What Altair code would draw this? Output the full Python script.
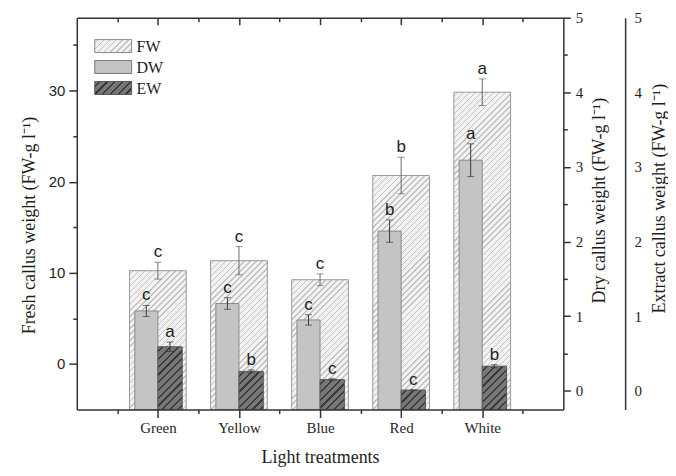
import json
import math
import altair as alt
import pandas as pd

# ---------------- data ----------------
treatments = ["Green", "Yellow", "Blue", "Red", "White"]
fw_mean = [10.23, 11.33, 9.24, 20.68, 29.82]
fw_err = [0.93, 1.55, 0.64, 2.0, 1.46]
fw_letters = ["c", "c", "c", "b", "a"]
dw_mean = [1.07, 1.17, 0.95, 2.14, 3.09]
dw_err = [0.074, 0.078, 0.07, 0.15, 0.22]
dw_letters = ["c", "c", "c", "b", "a"]
ew_mean = [0.59, 0.26, 0.15, 0.01, 0.33]
ew_err = [0.063, 0.02, 0.012, 0.0, 0.02]
ew_letters = ["a", "b", "c", "c", "b"]
legend_labels = ["FW", "DW", "EW"]

fresh_ticks = [0, 10, 20, 30]
fresh_minor = [5, 15, 25, 35]
right_ticks = [0, 1, 2, 3, 4, 5]
right_minor = [0.5, 1.5, 2.5, 3.5, 4.5]

# ---------------- layout / style ----------------
W, H = 488, 393
X_DOM = [0, 6]
FW_DOM = [-5, 38]
R_DOM = [-0.25, 5]
FW_HALF = 0.35
DW_OFF = (-0.285, 0.0)
EW_OFF = (0.0, 0.30)
SERIF = "Liberation Serif"
SANS = "Liberation Sans"
TXT = "#1e1e1e"
FRAME = "#333333"

pos = [i + 1 for i in range(len(treatments))]
x_minor_vals = [p - 0.5 for p in pos] + [pos[-1] + 0.5]
df = pd.DataFrame({
    "treatment": treatments,
    "pos": pos,
    "fw": fw_mean,
    "fw_lo": [m - e for m, e in zip(fw_mean, fw_err)],
    "fw_hi": [m + e for m, e in zip(fw_mean, fw_err)],
    "fw_l": fw_letters,
    "fw_x1": [p - FW_HALF for p in pos],
    "fw_x2": [p + FW_HALF for p in pos],
    "dw": dw_mean,
    "dw_lo": [m - e for m, e in zip(dw_mean, dw_err)],
    "dw_hi": [m + e for m, e in zip(dw_mean, dw_err)],
    "dw_l": dw_letters,
    "dw_x1": [p + DW_OFF[0] for p in pos],
    "dw_x2": [p + DW_OFF[1] for p in pos],
    "dw_xc": [p + (DW_OFF[0] + DW_OFF[1]) / 2 for p in pos],
    "ew": ew_mean,
    "ew_lo": [m - e for m, e in zip(ew_mean, ew_err)],
    "ew_hi": [m + e for m, e in zip(ew_mean, ew_err)],
    "ew_l": ew_letters,
    "ew_x1": [p + EW_OFF[0] for p in pos],
    "ew_x2": [p + EW_OFF[1] for p in pos],
    "ew_xc": [p + (EW_OFF[0] + EW_OFF[1]) / 2 for p in pos],
})
legend_df = pd.DataFrame({"label": legend_labels})


def hatch(w, h, bg, fg, spacing, thick):
    """45-degree '///' hatch as a linear gradient with hard stops."""
    L = w + h
    k = L / (w * w + h * h)
    period = spacing * math.sqrt(2) / L
    lw = thick * math.sqrt(2) / L
    stops = []
    i = 0
    while True:
        a = period * 0.5 + i * period
        if a >= 1:
            break
        b = min(a + lw, 1.0)
        stops += [(a, bg), (a, fg), (b, fg), (b, bg)]
        i += 1
    out = [{"offset": 0, "color": bg}] + [
        {"offset": round(o, 5), "color": c} for o, c in stops
    ] + [{"offset": 1, "color": bg}]
    return {"gradient": "linear", "x1": 0, "y1": 0,
            "x2": round(k * w, 5), "y2": round(k * h, 5), "stops": out}


FW_HATCH = dict(bg="#f2f2f2", fg="#c2c2c2", spacing=4.3, thick=1.0)
EW_HATCH = dict(bg="#777777", fg="#3a3a3a", spacing=5.5, thick=1.6)
DW_FILL = "#c4c4c4"

px_x = W / (X_DOM[1] - X_DOM[0])
px_fw = H / (FW_DOM[1] - FW_DOM[0])
px_r = H / (R_DOM[1] - R_DOM[0])

xs = alt.Scale(domain=X_DOM, nice=False, zero=False)
ys_fw = alt.Scale(domain=FW_DOM, nice=False, zero=False)
ys_r = alt.Scale(domain=R_DOM, nice=False, zero=False)

AX = dict(domainColor=FRAME, domainWidth=1.5, tickColor=FRAME, tickWidth=1.5,
          grid=False, zindex=1)
TITLE = dict(titleFont=SERIF, titleFontSize=18, titleFontWeight="normal",
             titleColor=TXT)

label_expr = json.dumps([""] + treatments) + "[datum.value]"
x_main = alt.Axis(orient="bottom", values=pos, labelExpr=label_expr, tickSize=8,
                  labelFont=SERIF, labelFontSize=15, labelColor=TXT, labelPadding=3,
                  title="Light treatments", titlePadding=13, **TITLE, **AX)
x_minor = alt.Axis(orient="bottom", values=x_minor_vals, tickSize=4, labels=False,
                   domain=False, title=None, **AX)
x_top = alt.Axis(orient="top", values=pos, tickSize={"expr": "-7"}, labels=False,
                 title=None, **AX)
x_top_minor = alt.Axis(orient="top", values=x_minor_vals, tickSize={"expr": "-4"},
                       labels=False, domain=False, title=None, **AX)
y_fw = alt.Axis(orient="left", values=fresh_ticks, tickSize=8, labelFont=SANS,
                labelFontSize=15, labelColor=TXT, labelPadding=4,
                title="Fresh callus weight (FW-g l⁻¹)", titlePadding=10,
                titleY=208, **TITLE, **AX)
y_fw_minor = alt.Axis(orient="left", values=fresh_minor, tickSize=4, labels=False,
                      domain=False, title=None, **AX)
y_dw = alt.Axis(orient="right", values=right_ticks, tickSize=7, labelFont=SERIF,
                labelFontSize=15, labelColor=TXT, labelPadding=5,
                title="Dry callus weight (FW-g l⁻¹)", titleAngle=270,
                titleBaseline="top", titlePadding=8, titleY=183, **TITLE, **AX)
y_dw_minor = alt.Axis(orient="right", values=right_minor, tickSize=4, labels=False,
                      domain=False, title=None, **AX)
y_ew = alt.Axis(orient="right", offset=62, values=right_ticks, ticks=False,
                tickSize=0, labelFont=SERIF, labelFontSize=15, labelColor=TXT,
                labelPadding=9, title="Extract callus weight (FW-g l⁻¹)",
                titleAngle=270, titleBaseline="top", titlePadding=9, titleY=181,
                **TITLE, **AX)

LETTER = dict(font=SANS, fontSize=17, baseline="alphabetic", dy=-5, color=TXT)


def err_layers(xfield, lo, hi, yscale, color):
    base = alt.Chart(df)
    rule = base.mark_rule(color=color, strokeWidth=1).encode(
        x=alt.X(f"{xfield}:Q", scale=xs, axis=None),
        y=alt.Y(f"{lo}:Q", scale=yscale, axis=None), y2=f"{hi}:Q")
    caps = [base.mark_tick(orient="horizontal", size=7, thickness=1, color=color).encode(
        x=alt.X(f"{xfield}:Q", scale=xs, axis=None),
        y=alt.Y(f"{f}:Q", scale=yscale, axis=None)) for f in (lo, hi)]
    return [rule] + caps


# ---- FW group (left scale) ----
fw_layers = []
for i, t in enumerate(treatments):
    w = 2 * FW_HALF * px_x
    h = (fw_mean[i] - FW_DOM[0]) * px_fw
    fw_layers.append(
        alt.Chart(df).transform_filter(alt.datum.treatment == t)
        .mark_rect(fill=hatch(w, h, **FW_HATCH), stroke="#9a9a9a", strokeWidth=1)
        .encode(x=alt.X("fw_x1:Q", scale=xs, axis=None), x2="fw_x2:Q",
                y=alt.Y("fw:Q", scale=ys_fw, axis=None),
                y2=alt.datum(FW_DOM[0])))
fw_text = alt.Chart(df).mark_text(**LETTER).encode(
    x=alt.X("pos:Q", scale=xs, axis=None),
    y=alt.Y("fw_hi:Q", scale=ys_fw, axis=None), text="fw_l:N")
G1 = alt.layer(*fw_layers, *err_layers("pos", "fw_lo", "fw_hi", ys_fw, "#6a6a6a"), fw_text)

# ---- DW group (right scale) ----
dw_bar = alt.Chart(df).mark_rect(fill=DW_FILL, stroke="#8a8a8a", strokeWidth=1).encode(
    x=alt.X("dw_x1:Q", scale=xs, axis=None), x2="dw_x2:Q",
    y=alt.Y("dw:Q", scale=ys_r, axis=None), y2=alt.datum(R_DOM[0]))
dw_text = alt.Chart(df).mark_text(**LETTER).encode(
    x=alt.X("dw_xc:Q", scale=xs, axis=None),
    y=alt.Y("dw_hi:Q", scale=ys_r, axis=None), text="dw_l:N")
G2 = alt.layer(dw_bar, *err_layers("dw_xc", "dw_lo", "dw_hi", ys_r, "#3a3a3a"), dw_text)

# ---- EW group (same right scale) ----
ew_layers = []
for i, t in enumerate(treatments):
    w = (EW_OFF[1] - EW_OFF[0]) * px_x
    h = (ew_mean[i] - R_DOM[0]) * px_r
    ew_layers.append(
        alt.Chart(df).transform_filter(alt.datum.treatment == t)
        .mark_rect(fill=hatch(w, h, **EW_HATCH), stroke="#555555", strokeWidth=1)
        .encode(x=alt.X("ew_x1:Q", scale=xs, axis=None), x2="ew_x2:Q",
                y=alt.Y("ew:Q", scale=ys_r, axis=None),
                y2=alt.datum(R_DOM[0])))
ew_text = alt.Chart(df).mark_text(**LETTER).encode(
    x=alt.X("ew_xc:Q", scale=xs, axis=None),
    y=alt.Y("ew_hi:Q", scale=ys_r, axis=None), text="ew_l:N")
G3 = alt.layer(*ew_layers, *err_layers("ew_xc", "ew_lo", "ew_hi", ys_r, "#3a3a3a"), ew_text)


# ---- axis carriers (invisible single charts, one x + one y axis each) ----
def carrier(yfield, yscale, xaxis, yaxis):
    return alt.Chart(df).mark_point(opacity=0).encode(
        x=alt.X("pos:Q", scale=xs, axis=xaxis),
        y=alt.Y(f"{yfield}:Q", scale=yscale, axis=yaxis))


A1 = carrier("fw", ys_fw, x_main, y_fw)
A2 = carrier("dw", ys_r, x_minor, y_dw)
A3 = carrier("ew", ys_r, x_top, y_ew)
A4 = carrier("fw", ys_fw, x_top_minor, y_fw_minor)
A5 = carrier("dw", ys_r, None, y_dw_minor)

# ---- legend ----
LEG_X, LEG_W, LEG_Y0, LEG_H, LEG_STEP = 18, 37, 22, 13, 21
leg_fills = {
    "FW": (hatch(LEG_W, LEG_H, **FW_HATCH), "#8a8a8a"),
    "DW": (DW_FILL, "#777777"),
    "EW": (hatch(LEG_W, LEG_H, **EW_HATCH), "#555555"),
}
leg_layers = []
for i, lab in enumerate(legend_labels):
    fill, stroke = leg_fills[lab]
    y0 = LEG_Y0 + i * LEG_STEP
    base = alt.Chart(legend_df).transform_filter(alt.datum.label == lab)
    leg_layers.append(base.mark_rect(fill=fill, stroke=stroke, strokeWidth=1).encode(
        x=alt.value(LEG_X), x2=alt.value(LEG_X + LEG_W),
        y=alt.value(y0), y2=alt.value(y0 + LEG_H)))
    leg_layers.append(base.mark_text(align="left", baseline="middle", font=SERIF,
                                     fontSize=16, color=TXT).encode(
        x=alt.value(LEG_X + LEG_W + 5), y=alt.value(y0 + LEG_H / 2 + 1),
        text="label:N"))
G6 = alt.layer(*leg_layers)

chart = (
    alt.layer(G1, G2, G3, A1, A2, A3, A4, A5, G6)
    .resolve_scale(x="independent", y="independent")
    .properties(width=W, height=H,
                autosize=alt.AutoSizeParams(type="none"),
                padding={"left": 69, "top": 9, "right": 105, "bottom": 58},
                background="white")
    .configure_view(stroke=None)
)

chart.save("out.html", embed_options={"renderer": "svg", "actions": False})
